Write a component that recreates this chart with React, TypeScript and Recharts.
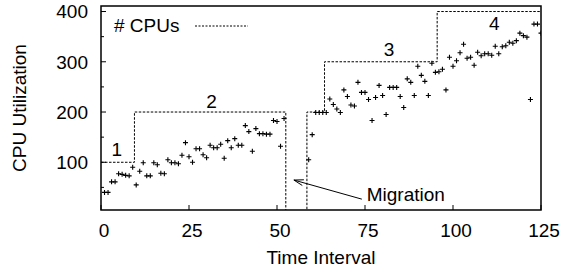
import React from 'react';
import {
  ComposedChart,
  XAxis,
  YAxis,
  Scatter,
  Line,
  ReferenceArea,
  ReferenceLine,
  ReferenceDot,
  Legend,
} from 'recharts';

// ---- data ----
const TIMES_A = [
  1, 2, 3, 4, 5, 6, 7, 8, 9, 10, 11, 12, 13, 14, 15, 16, 17, 18, 19, 20, 21, 22, 23, 24, 25, 26,
  27, 28, 29, 30, 31, 32, 33, 34, 35, 36, 37, 38, 39, 40, 41, 42, 43, 44, 45, 46, 47, 48, 49, 50,
  51, 52,
];
const UTIL_A = [
  40, 40, 61, 61, 77, 76, 74, 73, 90, 55,
  82, 99, 73, 73, 99, 95, 78, 77, 105, 99,
  99, 97, 114, 139, 111, 100, 127, 127, 115, 109,
  134, 129, 129, 136, 108, 143, 129, 147, 134, 134,
  173, 161, 122, 167, 157, 157, 156, 156, 183, 181,
  132, 187,
];
const TIMES_B = [
  59, 60, 61, 62, 63, 64, 65, 66, 67, 68, 69, 70, 71, 72, 73, 74, 75, 76, 77, 78, 79, 80, 81, 82,
  83, 84, 85, 86, 87, 88, 89, 90, 91, 92, 93, 94, 95, 96, 97, 98, 99, 100, 101, 102, 103, 104, 105,
  106, 107, 108, 109, 110, 111, 112, 113, 114, 115, 116, 117, 118, 119, 120, 121, 122, 123, 124, 125,
];
const UTIL_B = [
  105, 155, 199, 199, 199, 199, 226, 215, 206, 199,
  244, 231, 214, 212, 259, 239, 239, 225, 183, 229,
  253, 233, 195, 249, 249, 249, 231, 209, 266, 259,
  233, 291, 273, 261, 233, 297, 279, 280, 285, 244,
  309, 291, 302, 318, 335, 307, 309, 293, 319, 312,
  316, 316, 313, 331, 316, 330, 332, 339, 337, 342,
  357, 352, 349, 225, 375, 375, 357,
];

const CPU_T = [0, 9.5, 52.5, 58.5, 63.5, 95.5, 125];
const CPU_N = [100, 200, 0, 200, 300, 400, 400];

const X_TICKS = [0, 25, 50, 75, 100, 125];
const Y_TICKS = [50, 100, 150, 200, 250, 300, 350, 400];

const PHASE_TEXT = ['1', '2', '3', '4'];
const PHASE_T = [4.5, 31.4, 81.8, 111.7];
const PHASE_V = [125, 221, 324, 377];

const ARROW_T = [74.1, 54.8];
const ARROW_V = [26.6, 64.6];
const MIGRATION_T = 86.6;
const MIGRATION_V = 36.6;

// ---- built tables ----
const utilData = [
  ...TIMES_A.map((t, i) => ({ t, v: UTIL_A[i] })),
  ...TIMES_B.map((t, i) => ({ t, v: UTIL_B[i] })),
];
const cpuData = CPU_T.map((t, i) => ({ t, v: CPU_N[i] }));

const FONT = '"Liberation Sans", Arial, Helvetica, sans-serif';
const FS = 19;
const X_TICK_MARGIN = 14;
const Y_TICK_MARGIN = 13;

const PlusShape = (props: any) => {
  const { cx, cy } = props;
  if (cx == null || cy == null) return null;
  const h = 2.5;
  return (
    <path
      d={`M${cx - h},${cy}H${cx + h}M${cx},${cy - h}V${cy + h}`}
      stroke="#000"
      strokeWidth={1.1}
      fill="none"
    />
  );
};

const YTick = (props: any) => {
  const { x, y, payload } = props;
  const major = payload.value % 100 === 0;
  const ax = x + Y_TICK_MARGIN;
  return (
    <g>
      <line x1={ax} x2={ax + (major ? 5 : 3)} y1={y} y2={y} stroke="#000" strokeWidth={1} />
      {major && (
        <text
          x={x}
          y={y}
          dy="0.355em"
          textAnchor="end"
          fontFamily={FONT}
          fontSize={FS}
          fill="#000"
        >
          {payload.value}
        </text>
      )}
    </g>
  );
};

const XTick = (props: any) => {
  const { x, y, payload } = props;
  const ay = y - X_TICK_MARGIN;
  return (
    <g>
      <line x1={x} x2={x} y1={ay} y2={ay - 5} stroke="#000" strokeWidth={1} />
      <text
        x={x + 3}
        y={y}
        dy="0.71em"
        textAnchor="middle"
        fontFamily={FONT}
        fontSize={FS}
        fill="#000"
      >
        {payload.value}
      </text>
    </g>
  );
};

const YLabel = (props: any) => {
  const vb = props.viewBox || {};
  const x = (vb.x ?? 0) + 19.5;
  const y = (vb.y ?? 0) + (vb.height ?? 0) / 2;
  return (
    <text
      x={x}
      y={y}
      transform={`rotate(-90, ${x}, ${y})`}
      textAnchor="middle"
      dominantBaseline="central"
      fontFamily={FONT}
      fontSize={FS}
      fill="#000"
    >
      CPU Utilization
    </text>
  );
};

const ArrowShape = (props: any) => {
  const { x1, y1, x2, y2 } = props;
  if ([x1, y1, x2, y2].some((v) => v == null || isNaN(v))) return null;
  const a = Math.atan2(y2 - y1, x2 - x1);
  const L = 10;
  const h = 0.3;
  const p1 = [x2 - L * Math.cos(a - h), y2 - L * Math.sin(a - h)];
  const p2 = [x2 - L * Math.cos(a + h), y2 - L * Math.sin(a + h)];
  return (
    <g>
      <line x1={x1} y1={y1} x2={x2} y2={y2} stroke="#000" strokeWidth={1} />
      <path d={`M${p1[0]},${p1[1]}L${x2},${y2}L${p2[0]},${p2[1]}`} stroke="#000" fill="none" strokeWidth={1} />
    </g>
  );
};

const LegendContent = () => (
  <div
    style={{
      display: 'flex',
      alignItems: 'center',
      fontFamily: FONT,
      fontSize: FS,
      lineHeight: '24px',
      color: '#000',
      whiteSpace: 'nowrap',
    }}
  >
    <span># CPUs</span>
    <svg width={53} height={4} style={{ marginLeft: 16 }}>
      <line x1={0} y1={2} x2={53} y2={2} stroke="#000" strokeWidth={1} strokeDasharray="2 1.5" />
    </svg>
  </div>
);

export default function App() {
  return (
    <div style={{ position: 'absolute', left: 0, top: 0, background: '#fff' }}>
      <ComposedChart
        width={561}
        height={270}
        margin={{ top: 6, right: 20, bottom: 0, left: 0 }}
        style={{ fontFamily: FONT }}
      >
        <XAxis
          dataKey="t"
          type="number"
          domain={[0, 125]}
          ticks={X_TICKS}
          interval={0}
          height={60}
          axisLine={false}
          tickLine={false}
          tickSize={0}
          tickMargin={X_TICK_MARGIN}
          tick={<XTick />}
          allowDataOverflow
          label={{
            value: 'Time Interval',
            position: 'insideBottom',
            offset: 6,
            fontSize: FS,
            fontFamily: FONT,
            fill: '#000',
          }}
        />
        <YAxis
          dataKey="v"
          type="number"
          domain={[5, 411]}
          ticks={Y_TICKS}
          interval={0}
          width={101}
          axisLine={false}
          tickLine={false}
          tickSize={0}
          tickMargin={Y_TICK_MARGIN}
          tick={<YTick />}
          allowDataOverflow
          label={<YLabel />}
        />
        <Legend
          layout="vertical"
          align="center"
          verticalAlign="middle"
          wrapperStyle={{ left: 114, top: 14, width: 'auto' }}
          content={<LegendContent />}
        />
        <Line
          data={cpuData}
          dataKey="v"
          type="stepAfter"
          stroke="#000"
          strokeWidth={1}
          strokeDasharray="2.5 1.5"
          dot={false}
          activeDot={false}
          isAnimationActive={false}
          legendType="none"
        />
        <Scatter
          data={utilData}
          dataKey="v"
          shape={<PlusShape />}
          isAnimationActive={false}
          legendType="none"
        />
        {PHASE_TEXT.map((txt, i) => (
          <ReferenceDot
            key={txt}
            x={PHASE_T[i]}
            y={PHASE_V[i]}
            r={0}
            fill="none"
            stroke="none"
            ifOverflow="visible"
            label={{ value: txt, position: 'center', fontSize: FS, fontFamily: FONT, fill: '#000' }}
          />
        ))}
        <ReferenceLine
          segment={[
            { x: ARROW_T[0], y: ARROW_V[0] },
            { x: ARROW_T[1], y: ARROW_V[1] },
          ]}
          ifOverflow="visible"
          shape={<ArrowShape />}
        />
        <ReferenceDot
          x={MIGRATION_T}
          y={MIGRATION_V}
          r={0}
          fill="none"
          stroke="none"
          ifOverflow="visible"
          label={{ value: 'Migration', position: 'center', fontSize: FS, fontFamily: FONT, fill: '#000' }}
        />
        <ReferenceArea
          x1={0}
          x2={125}
          y1={5}
          y2={411}
          fill="none"
          fillOpacity={0}
          stroke="#000"
          strokeWidth={1.5}
          ifOverflow="visible"
        />
      </ComposedChart>
    </div>
  );
}
